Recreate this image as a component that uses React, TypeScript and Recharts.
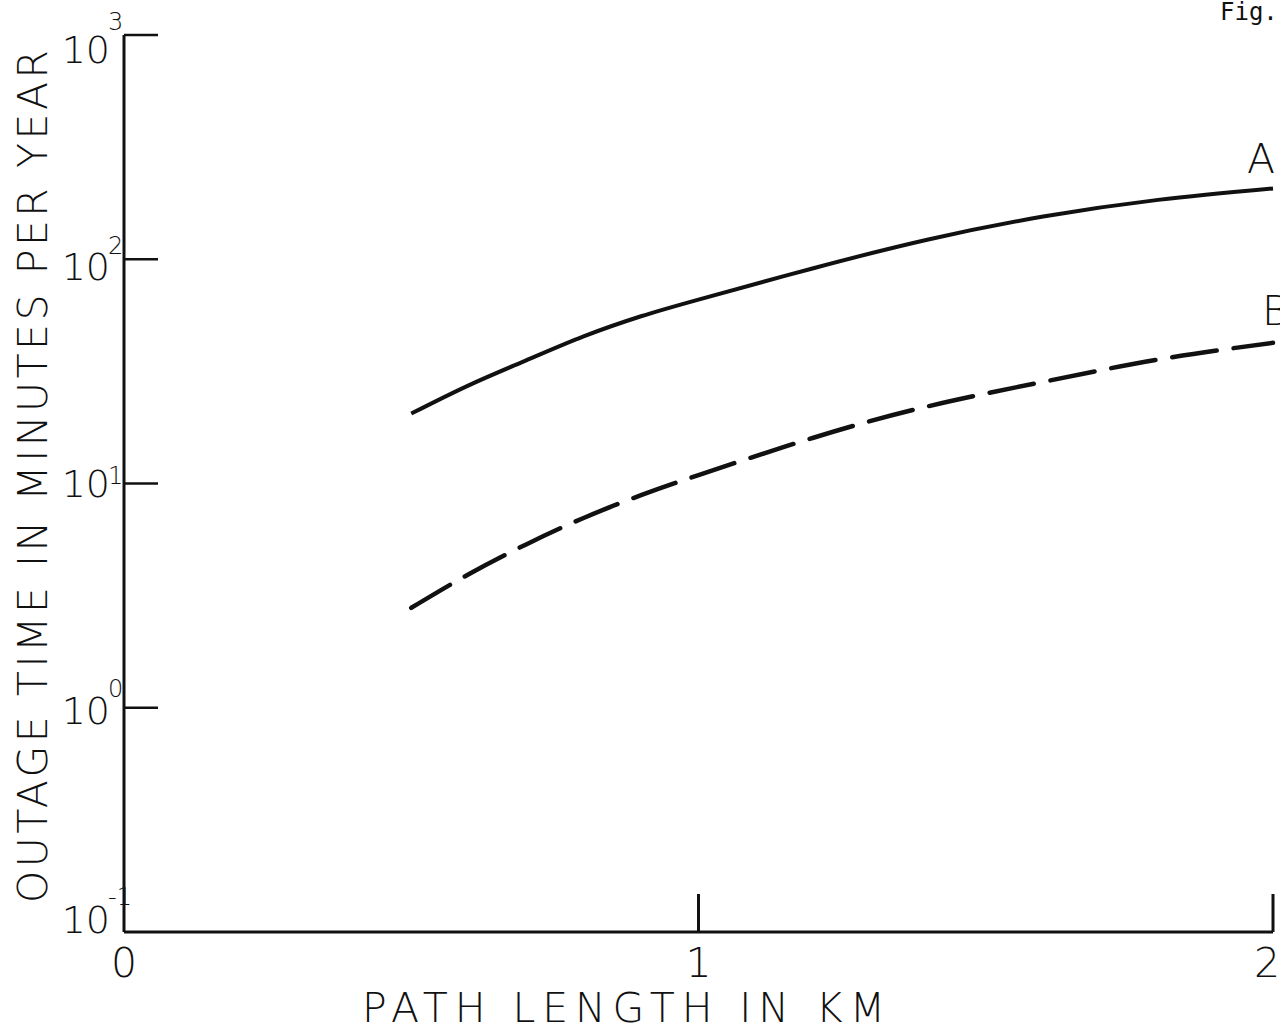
import { Line, LineChart, XAxis, YAxis } from 'recharts';

const pathKm = [0.5, 0.6, 0.7, 0.8, 0.9, 1.0, 1.2, 1.4, 1.6, 1.8, 2.0];
const outageA = [20.5, 27.4, 35.4, 45.3, 55.7, 66.1, 91.2, 122.5, 155, 184, 207];
const outageB = [2.79, 3.94, 5.35, 7.02, 8.87, 10.9, 16.0, 22.1, 28.4, 35.7, 42.4];
const xTicks = [0, 1, 2];
const yTicks = [0.1, 1, 10, 100, 1000];
const yExponents = ['-1', '0', '1', '2', '3'];

const data = pathKm.map((km, i) => ({ km, a: outageA[i], b: outageB[i] }));

const W = 1280;
const H = 1029;
const FONT = '"DejaVu Sans", sans-serif';
const Y_AXIS_W = 60;
const X_AXIS_H = 60;

// hand-lettered labels sit a little differently on each decade
const yLabelShift: Record<string, { base: number; exp: number }> = {
  '3': { base: 28, exp: -5 },
  '2': { base: 21, exp: -5 },
  '1': { base: 13, exp: 0 },
  '0': { base: 16, exp: -11 },
  '-1': { base: 1, exp: -27 },
};

function YTick({ x, y, payload }: any) {
  const i = yTicks.indexOf(payload.value);
  const exp = yExponents[i];
  const s = yLabelShift[exp];
  return (
    <g>
      {exp !== '-1' && <line x1={x} x2={x + 34} y1={y} y2={y} stroke="#111" strokeWidth={2.5} />}
      <text x={x - 14} y={y + s.base} textAnchor="end" fontSize={38} fontWeight={200} fontFamily={FONT} fill="#111">
        10
      </text>
      <text x={x - 16} y={y + s.exp} textAnchor="start" fontSize={24} fontWeight={200} fontFamily={FONT} fill="#111">
        {exp}
      </text>
    </g>
  );
}

function XTick({ x, y, payload }: any) {
  return (
    <g>
      {payload.value !== 0 && <line x1={x} x2={x} y1={y} y2={y - 38} stroke="#111" strokeWidth={3} />}
      <text x={x - (payload.value === 2 ? 6 : 0)} y={y + 45} textAnchor="middle" fontSize={41} fontWeight={200} fontFamily={FONT} fill="#111">
        {payload.value}
      </text>
    </g>
  );
}

export default function App() {
  return (
    <div style={{ position: 'absolute', left: 0, top: 0, width: W, height: H, background: '#fff' }}>
      <LineChart
        width={W}
        height={H}
        data={data}
        margin={{ top: 35, right: 7, bottom: 97 - X_AXIS_H, left: 124 - Y_AXIS_W }}
      >
        <XAxis
          dataKey="km"
          type="number"
          domain={[0, 2]}
          ticks={xTicks}
          height={X_AXIS_H}
          tickSize={0}
          tickMargin={0}
          tickLine={false}
          axisLine={{ stroke: '#111', strokeWidth: 3 }}
          tick={<XTick />}
        />
        <YAxis
          type="number"
          scale="log"
          domain={[0.1, 1000]}
          ticks={yTicks}
          allowDataOverflow
          width={Y_AXIS_W}
          tickSize={0}
          tickMargin={0}
          tickLine={false}
          axisLine={{ stroke: '#111', strokeWidth: 3 }}
          tick={<YTick />}
        />
        <Line dataKey="a" type="natural" stroke="#111" strokeWidth={4} dot={false} isAnimationActive={false} />
        <Line
          dataKey="b"
          type="natural"
          stroke="#111"
          strokeWidth={4.5}
          strokeDasharray="45 17"
          strokeLinecap="round"
          dot={false}
          isAnimationActive={false}
        />
      </LineChart>
      <svg width={W} height={H} style={{ position: 'absolute', left: 0, top: 0, pointerEvents: 'none' }}>
        <text x={1220} y={20} fontSize={24} fontFamily='"DejaVu Sans Mono", monospace' fill="#111">
          Fig.
        </text>
        <text x={1247} y={173} fontSize={41} fontWeight={200} fontFamily={FONT} fill="#111">
          A
        </text>
        <text x={1262} y={325} fontSize={41} fontWeight={200} fontFamily={FONT} fill="#111">
          B
        </text>
        <text x={362} y={1022} fontSize={41} fontWeight={200} fontFamily={FONT} fill="#111" textLength={523} lengthAdjust="spacing">
          PATH LENGTH  IN KM
        </text>
        <text
          x={47}
          y={903}
          transform="rotate(-90 47 903)"
          fontSize={41}
          fontWeight={200}
          fontFamily={FONT}
          fill="#111"
          textLength={853}
          lengthAdjust="spacing"
        >
          OUTAGE TIME IN MINUTES PER YEAR
        </text>
      </svg>
    </div>
  );
}
